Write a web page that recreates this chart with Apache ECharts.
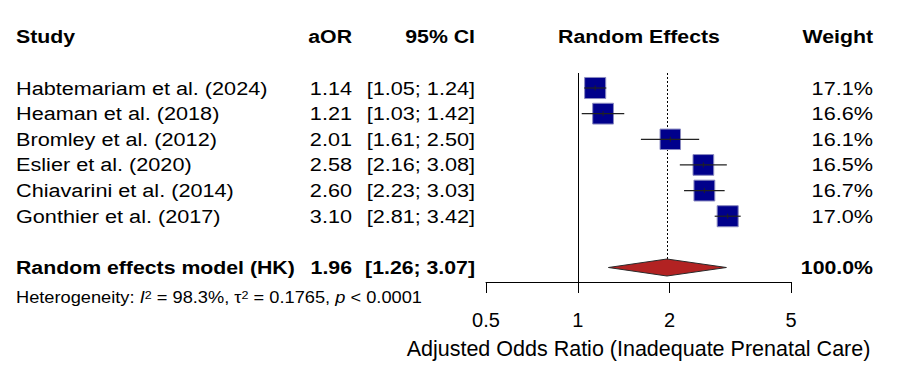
<!DOCTYPE html>
<html>
<head>
<meta charset="utf-8">
<script src="https://cdn.jsdelivr.net/npm/echarts@6/dist/echarts.min.js"></script>
<style>
html,body{margin:0;padding:0;background:#fff;}
#chart{width:897px;height:369px;}
</style>
</head>
<body>
<div id="chart"></div>
<script>
// ---------------- data ----------------
const studies = ['Habtemariam et al. (2024)', 'Heaman et al. (2018)', 'Bromley et al. (2012)', 'Eslier et al. (2020)', 'Chiavarini et al. (2014)', 'Gonthier et al. (2017)'];
const aOR = [1.14, 1.21, 2.01, 2.58, 2.60, 3.10];
const ciLow = [1.05, 1.03, 1.61, 2.16, 2.23, 2.81];
const ciHigh = [1.24, 1.42, 2.50, 3.08, 3.03, 3.42];
const weights = [17.1, 16.6, 16.1, 16.5, 16.7, 17.0];
const summaryLabel = 'Random effects model (HK)';
const summaryEst = 1.96;
const summaryLow = 1.26;
const summaryHigh = 3.07;
const summaryWeight = 100.0;
const hetI2 = '98.3%';
const hetTau2 = '0.1765';
const hetP = '< 0.0001';
const xTicks = [0.5, 1, 2, 5];
const headers = ['Study', 'aOR', '95% CI', 'Random Effects', 'Weight'];
const xAxisTitle = 'Adjusted Odds Ratio (Inadequate Prenatal Care)';

// ---------------- layout ----------------
const FONT = '"Liberation Sans", Arial, Helvetica, sans-serif';
const SX = 1.14;          // horizontal stretch of the reference text
const SX_BOLD = 1.12;
const FS = 19;
const COL_STUDY = 16, COL_AOR = 352, COL_CI = 475, COL_RE = 639, COL_W = 873;
const Y_MIN = -0.585, Y_MAX = 7.565;
const ROW_SUMMARY = 7, ROW_HEADER = -2, ROW_HET = 8.15;

function txt(x, y, text, align, bold, size) {
  return {
    type: 'text', x: x, y: y, scaleX: bold ? SX_BOLD : SX, scaleY: 1,
    style: {
      text: text, fill: '#000',
      font: (bold ? 'bold ' : '') + (size || FS) + 'px ' + FONT,
      align: align, textAlign: align, verticalAlign: 'middle', textVerticalAlign: 'middle'
    }
  };
}

const chart = echarts.init(document.getElementById('chart'), null, {renderer: 'svg'});

const studyData = studies.map((s, i) => [aOR[i], i, ciLow[i], ciHigh[i], weights[i]]);

const option = {
  animation: false,
  backgroundColor: '#fff',
  grid: {left: 486, right: 106, top: 73, bottom: 87, containLabel: false},
  xAxis: {
    type: 'log', logBase: 10, min: 0.5, max: 5,
    axisLine: {show: true, onZero: false, lineStyle: {color: '#000', width: 1}},
    axisTick: {show: true, length: 11, customValues: xTicks, lineStyle: {color: '#000', width: 1}},
    axisLabel: {customValues: xTicks, fontSize: 20, color: '#000', margin: 28, fontFamily: FONT,
      formatter: v => String(+(+v).toPrecision(3))},
    splitLine: {show: false},
    minorTick: {show: false},
    name: xAxisTitle, nameLocation: 'middle', nameGap: 56,
    nameTextStyle: {fontSize: 21.5, color: '#000', fontFamily: FONT}
  },
  yAxis: {type: 'value', inverse: true, min: Y_MIN, max: Y_MAX, show: false},
  series: [
    {
      // reference lines: null effect (solid) and summary estimate (dotted)
      type: 'custom', clip: false, z: 1,
      data: [[1, 0], [summaryEst, 1]],
      renderItem: function (params, api) {
        const x = api.value(0);
        const top = api.coord([x, Y_MIN]);
        if (api.value(1) === 0) {
          const bot = api.coord([x, Y_MAX]);
          return {type: 'line', shape: {x1: Math.round(top[0]) + 0.5, y1: top[1], x2: Math.round(top[0]) + 0.5, y2: bot[1]},
            style: {stroke: '#000', lineWidth: 1}};
        }
        const dc = api.coord([x, ROW_SUMMARY]);
        return {type: 'line', shape: {x1: Math.round(top[0]) + 0.5, y1: top[1], x2: Math.round(top[0]) + 0.5, y2: dc[1] - 8.5},
          style: {stroke: '#000', lineWidth: 1, lineDash: [2, 2]}};
      }
    },
    {
      // study squares with CI lines
      type: 'custom', clip: false, z: 3,
      data: studyData,
      renderItem: function (params, api) {
        const row = api.value(1);
        const c = api.coord([api.value(0), row]);
        const l = api.coord([api.value(2), row]);
        const h = api.coord([api.value(3), row]);
        const s = Math.sqrt(api.value(4)) * 5.1;
        return {type: 'group', children: [
          {type: 'rect', shape: {x: c[0] - s / 2, y: c[1] - s / 2, width: s, height: s},
            style: {fill: '#00008B', stroke: '#8A8AC0', lineWidth: 1}},
          {type: 'line', shape: {x1: l[0], y1: c[1], x2: h[0], y2: c[1]}, style: {stroke: '#222', lineWidth: 1.2}},
          {type: 'line', shape: {x1: c[0], y1: c[1] - 2.5, x2: c[0], y2: c[1] + 2.5}, style: {stroke: '#222', lineWidth: 1}}
        ]};
      }
    },
    {
      // summary diamond
      type: 'custom', clip: false, z: 3,
      data: [[summaryEst, ROW_SUMMARY, summaryLow, summaryHigh]],
      renderItem: function (params, api) {
        const row = api.value(1);
        const c = api.coord([api.value(0), row]);
        const l = api.coord([api.value(2), row]);
        const h = api.coord([api.value(3), row]);
        const hh = 8.5;
        return {type: 'polygon', shape: {points: [[l[0], c[1]], [c[0], c[1] - hh], [h[0], c[1]], [c[0], c[1] + hh]]},
          style: {fill: '#B22222', stroke: '#2a2a2a', lineWidth: 1}};
      }
    },
    {
      // table text
      type: 'custom', clip: false, z: 5,
      data: [[0]],
      renderItem: function (params, api) {
        const yOf = r => api.coord([1, r])[1];
        const ch = [];
        const yh = yOf(ROW_HEADER);
        ch.push(txt(COL_STUDY, yh, headers[0], 'left', true));
        ch.push(txt(COL_AOR, yh, headers[1], 'right', true));
        ch.push(txt(COL_CI, yh, headers[2], 'right', true));
        ch.push(txt(COL_RE, yh, headers[3], 'center', true));
        ch.push(txt(COL_W, yh, headers[4], 'right', true));
        studies.forEach((s, i) => {
          const y = yOf(i);
          ch.push(txt(COL_STUDY, y, s, 'left', false));
          ch.push(txt(COL_AOR, y, aOR[i].toFixed(2), 'right', false));
          ch.push(txt(COL_CI, y, '[' + ciLow[i].toFixed(2) + '; ' + ciHigh[i].toFixed(2) + ']', 'right', false));
          ch.push(txt(COL_W, y, weights[i].toFixed(1) + '%', 'right', false));
        });
        const ys = yOf(ROW_SUMMARY);
        ch.push(txt(COL_STUDY, ys, summaryLabel, 'left', true));
        ch.push(txt(COL_AOR, ys, summaryEst.toFixed(2), 'right', true));
        ch.push(txt(COL_CI, ys, '[' + summaryLow.toFixed(2) + '; ' + summaryHigh.toFixed(2) + ']', 'right', true));
        ch.push(txt(COL_W, ys, summaryWeight.toFixed(1) + '%', 'right', true));
        const yt = yOf(ROW_HET);
        ch.push({
          type: 'text', x: COL_STUDY, y: yt, scaleX: 1.14,
          style: {
            text: 'Heterogeneity: {it|I}{sup|2} = ' + hetI2 + ', τ{sup|2} = ' + hetTau2 + ', {it|p} ' + hetP,
            fill: '#000', fontSize: 16, fontFamily: FONT,
            align: 'left', textAlign: 'left', verticalAlign: 'middle', textVerticalAlign: 'middle',
            rich: {
              it: {fontSize: 16, fontStyle: 'italic', fontFamily: FONT, fill: '#000'},
              sup: {fontSize: 11, verticalAlign: 'top', fontFamily: FONT, fill: '#000'}
            }
          }
        });
        return {type: 'group', children: ch};
      }
    }
  ]
};
chart.setOption(option);
</script>
</body>
</html>
